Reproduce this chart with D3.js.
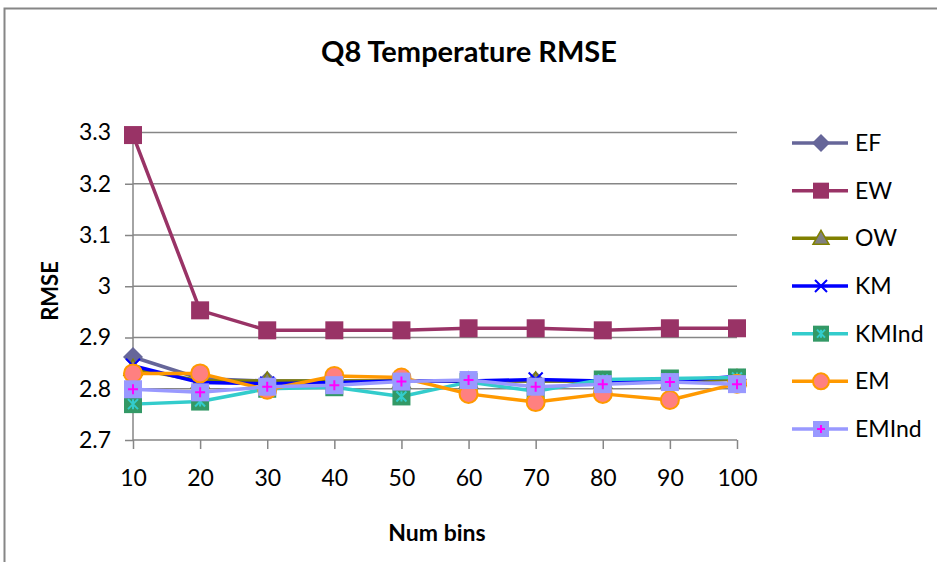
<!DOCTYPE html>
<html><head><meta charset="utf-8">
<script src="https://cdn.jsdelivr.net/npm/d3@7"></script>
<style>body{margin:0;background:#fff;}svg{display:block;font-family:Lato,"Noto Sans",sans-serif;}</style>
</head><body><svg id="c" width="937" height="562"></svg>
<script>
const bins = [10,20,30,40,50,60,70,80,90,100];
const yTicks = [2.7,2.8,2.9,3.0,3.1,3.2,3.3];
const yTickLabels = ["2.7","2.8","2.9","3","3.1","3.2","3.3"];
const seriesNames = ["EF","EW","OW","KM","KMInd","EM","EMInd"];
const EF    = [2.862,2.820,2.815,2.815,2.815,2.815,2.815,2.815,2.815,2.818];
const EW    = [3.295,2.953,2.914,2.914,2.914,2.918,2.918,2.914,2.918,2.918];
const OW    = [2.840,2.815,2.815,2.815,2.815,2.815,2.815,2.815,2.815,2.820];
const KM    = [2.845,2.812,2.810,2.812,2.815,2.815,2.818,2.815,2.815,2.824];
const KMInd = [2.770,2.775,2.800,2.803,2.785,2.813,2.795,2.818,2.820,2.822];
const EM    = [2.830,2.830,2.798,2.825,2.822,2.790,2.774,2.790,2.778,2.810];
const EMInd = [2.799,2.793,2.804,2.807,2.814,2.817,2.804,2.809,2.813,2.809];
const seriesValues = [EF,EW,OW,KM,KMInd,EM,EMInd];

const styles = {
  EF:{line:"#666699",marker:"diamond",fill:"#666699",stroke:"#666699"},
  EW:{line:"#993366",marker:"square",fill:"#993366",stroke:"#993366"},
  OW:{line:"#808000",marker:"triangle",fill:"#808080",stroke:"#808000"},
  KM:{line:"#0000FF",marker:"x",fill:"none",stroke:"#0000FF"},
  KMInd:{line:"#33CCCC",marker:"squareStar",fill:"#339966",stroke:"#33CCCC"},
  EM:{line:"#FF9900",marker:"circle",fill:"#FF8080",stroke:"#FF9900"},
  EMInd:{line:"#9999FF",marker:"squarePlus",fill:"#9999FF",stroke:"#FF00FF"}
};

const svg = d3.select("#c");
const W=937,H=562;
svg.append("rect").attr("x",4.5).attr("y",8.5).attr("width",W+20).attr("height",H+20)
  .attr("fill","#fff").attr("stroke","#868686").attr("stroke-width",2);

const x = d3.scalePoint().domain(bins).range([133,737]);
const y = d3.scaleLinear().domain([2.7,3.3]).range([440,132.5]);
const g = svg.append("g");

// gridlines
g.selectAll("line.grid").data(yTicks.slice(1)).join("line")
  .attr("x1",133).attr("x2",737).attr("y1",d=>y(d)).attr("y2",d=>y(d))
  .attr("stroke","#868686").attr("stroke-width",1.5);

// y axis
const yAxis = d3.axisLeft(y).tickValues(yTicks).tickFormat((d,i)=>yTickLabels[i]).tickSize(8).tickPadding(14);
const ya = g.append("g").attr("transform","translate(133,0)").call(yAxis);
ya.select(".domain").attr("stroke","#868686").attr("stroke-width",1.5).attr("d","M0,"+y(3.3)+"V"+y(2.7));
ya.selectAll(".tick line").attr("stroke","#868686").attr("stroke-width",1.5);
ya.selectAll(".tick text").attr("font-size",23).attr("fill","#000").attr("font-family","Lato");

// x axis
const xAxis = d3.axisBottom(x).tickSize(9).tickPadding(21);
const xa = g.append("g").attr("transform","translate(0,440)").call(xAxis);
xa.select(".domain").attr("stroke","#868686").attr("stroke-width",1.5).attr("d","M133,0H737");
xa.selectAll(".tick line").attr("stroke","#868686").attr("stroke-width",1.5);
xa.selectAll(".tick text").attr("font-size",23).attr("fill","#000").attr("font-family","Lato");

// titles
svg.append("text").attr("x",469).attr("y",62).attr("text-anchor","middle")
  .attr("font-size",29).attr("font-weight","bold").text("Q8 Temperature RMSE");
svg.append("text").attr("transform","translate(58,291) rotate(-90)").attr("text-anchor","middle")
  .attr("font-size",22).attr("font-weight","bold").text("RMSE");
svg.append("text").attr("x",437).attr("y",541).attr("text-anchor","middle")
  .attr("font-size",23).attr("font-weight","bold").text("Num bins");

function drawMarker(sel, type, st, s){
  const h=s/2;
  if(type==="diamond"){
    sel.append("path").attr("d",`M0,${-h-1}L${h+1},0L0,${h+1}L${-h-1},0Z`).attr("fill",st.fill);
  } else if(type==="square"){
    sel.append("rect").attr("x",-h).attr("y",-h).attr("width",s).attr("height",s).attr("fill",st.fill);
  } else if(type==="triangle"){
    sel.append("path").attr("d",`M0,${-h}L${h},${h-2}L${-h},${h-2}Z`).attr("fill",st.fill).attr("stroke",st.stroke).attr("stroke-width",1.5);
  } else if(type==="x"){
    const a=h-2;
    sel.append("path").attr("d",`M${-a},${-a}L${a},${a}M${-a},${a}L${a},${-a}`).attr("stroke",st.stroke).attr("stroke-width",2).attr("fill","none");
  } else if(type==="squareStar"){
    sel.append("rect").attr("x",-h).attr("y",-h).attr("width",s).attr("height",s).attr("fill",st.fill);
    const a=h-4;
    sel.append("path").attr("d",`M${-a},${-a}L${a},${a}M${-a},${a}L${a},${-a}M0,${-a}V${a}`).attr("stroke",st.stroke).attr("stroke-width",2).attr("fill","none");
  } else if(type==="circle"){
    sel.append("circle").attr("r",h).attr("fill",st.fill).attr("stroke",st.stroke).attr("stroke-width",2);
  } else if(type==="squarePlus"){
    sel.append("rect").attr("x",-h).attr("y",-h).attr("width",s).attr("height",s).attr("fill",st.fill);
    const a=h-4;
    sel.append("path").attr("d",`M${-a},0H${a}M0,${-a}V${a}`).attr("stroke",st.stroke).attr("stroke-width",2).attr("fill","none");
  }
}

const line = d3.line().x((d,i)=>x(bins[i])).y(d=>y(d));
seriesNames.forEach((name,si)=>{
  const st=styles[name];
  const sg = svg.append("g");
  sg.append("path").datum(seriesValues[si]).attr("d",line).attr("fill","none")
    .attr("stroke",st.line).attr("stroke-width",3.5).attr("stroke-linejoin","round");
  seriesValues[si].forEach((v,i)=>{
    const m = sg.append("g").attr("transform",`translate(${x(bins[i])},${y(v)})`);
    drawMarker(m, st.marker, st, 18);
  });
});

// legend
const legY = d3.scalePoint().domain(seriesNames).range([143,429]);
seriesNames.forEach(name=>{
  const st=styles[name];
  const lg = svg.append("g").attr("transform",`translate(0,${legY(name)})`);
  lg.append("line").attr("x1",792).attr("x2",848).attr("y1",0).attr("y2",0).attr("stroke",st.line).attr("stroke-width",3.5);
  const m = lg.append("g").attr("transform","translate(821,0)");
  drawMarker(m, st.marker, st, 16);
  lg.append("text").attr("x",855).attr("y",8).attr("font-size",23).attr("fill","#000").text(name);
});
</script></body></html>
